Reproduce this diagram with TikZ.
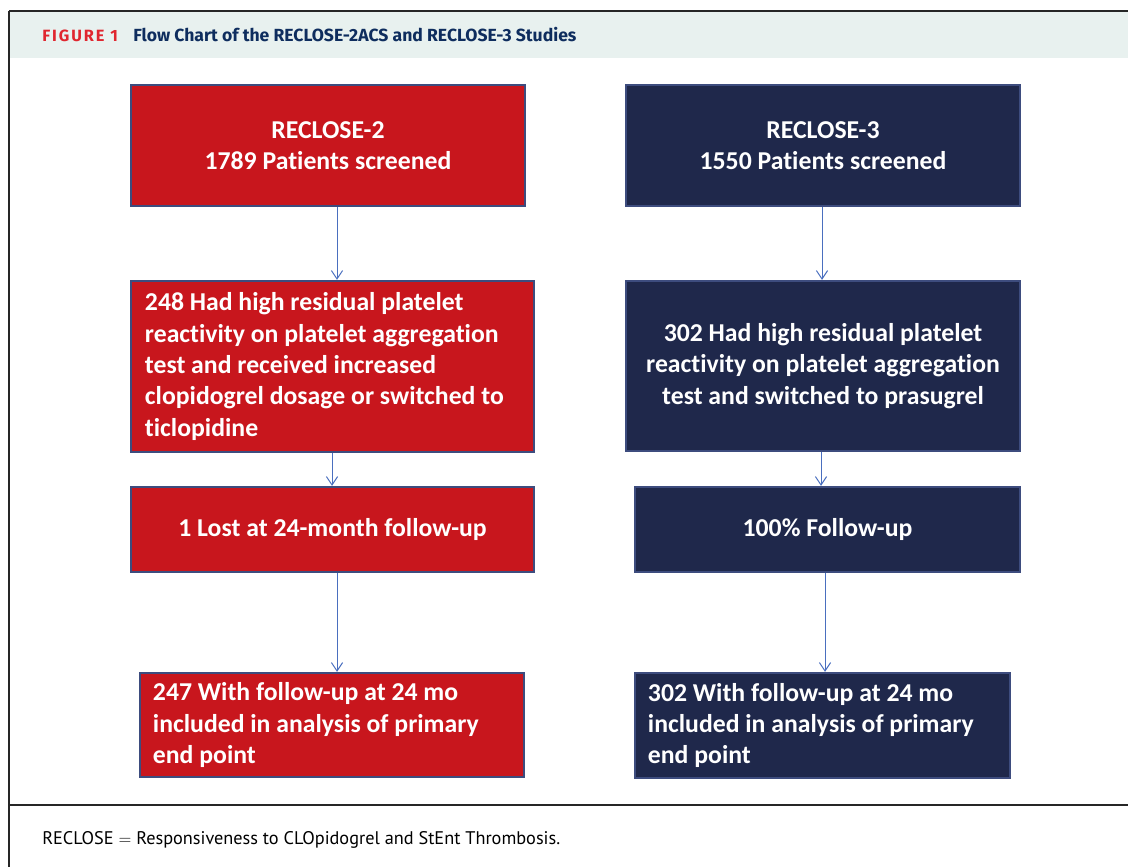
\documentclass[tikz,border=0pt]{standalone}
\usepackage{fontspec}
\setmainfont{Carlito}[Ligatures=NoCommon]
\newfontfamily\headfont{Fira Sans}
\newfontfamily\figfont{Fira Sans}[LetterSpace=12]
\newfontfamily\notefont{PT Sans}
\usepackage{tikz}
\usetikzlibrary{arrows.meta}
\definecolor{boxred}{HTML}{C8161D}
\definecolor{boxnavy}{HTML}{1F284B}
\definecolor{boxedge}{HTML}{3D4C7E}
\definecolor{flowblue}{HTML}{4A6FBF}
\definecolor{headbg}{HTML}{E8F1EF}
\definecolor{headred}{HTML}{E0262F}
\definecolor{headnavy}{HTML}{0E2D5E}

\begin{document}
\begin{tikzpicture}[x=0.025cm, y=-0.025cm,
		box/.style={draw=boxedge, line width=1.6pt, text=white, inner sep=0pt,
			font=\fontsize{18.3}{22.3}\selectfont\bfseries},
		redbox/.style={box, fill=boxred},
		navybox/.style={box, fill=boxnavy},
		flow/.style={draw=flowblue, line width=0.7pt, -{Straight Barb[length=6pt, width=8pt]}}]
	\useasboundingbox (0,0) rectangle (1128,867);
	\fill[headbg] (10,12) rectangle (1128,58);
	\draw[line width=1.4pt, black!85] (9,11) -- (1128,11);
	\draw[line width=1.4pt, black!85] (9,11) -- (9,867);
	\draw[line width=1.4pt, black!85] (9,805) -- (1128,805);
	\node[anchor=base west, inner sep=0pt, text=headred, font=\figfont\fontsize{11.6}{13}\selectfont\bfseries] (fig) at (42,42) {FIGURE 1};
	\node[anchor=base west, inner sep=0pt, text=headnavy, font=\headfont\fontsize{12.5}{14}\selectfont\bfseries] (title) at (133,42) {Flow Chart of the RECLOSE-2ACS and RECLOSE-3 Studies};
	\node[anchor=base west, inner sep=0pt, font=\notefont\fontsize{13}{15}\selectfont] (note) at (42,844) {RECLOSE $=$ Responsiveness to CLOpidogrel and StEnt Thrombosis.};

	% RECLOSE-2 column
	\node[redbox, minimum width=9.85cm, minimum height=3.025cm, align=center] (L1) at (328,145.5)
		{RECLOSE-2\\1789 Patients screened};
	\node[redbox, minimum height=4.275cm, inner xsep=0.35cm, text width=9.375cm, align=flush left] (L2) at (332.5,366.5)
		{248 Had high residual platelet\\reactivity on platelet aggregation\\test and received increased\\clopidogrel dosage or switched to\\ticlopidine};
	\node[redbox, minimum width=10.075cm, minimum height=2.125cm, align=center] (L3) at (332.5,529.5)
		{1 Lost at 24-month follow-up};
	\node[redbox, minimum height=2.6cm, inner xsep=0.325cm, text width=8.95cm, align=flush left] (L4) at (332,725)
		{247 With follow-up at 24 mo\\included in analysis of primary\\end point};

	% RECLOSE-3 column
	\node[navybox, minimum width=9.85cm, minimum height=3.025cm, align=center] (R1) at (823,145.5)
		{RECLOSE-3\\1550 Patients screened};
	\node[navybox, minimum width=9.85cm, minimum height=4.25cm, align=center] (R2) at (823,366)
		{302 Had high residual platelet\\reactivity on platelet aggregation\\test and switched to prasugrel};
	\node[navybox, minimum width=9.625cm, minimum height=2.125cm, align=center] (R3) at (827.5,529.5)
		{100\% Follow-up};
	\node[navybox, minimum height=2.625cm, inner xsep=0.325cm, text width=8.725cm, align=flush left] (R4) at (822.5,725.5)
		{302 With follow-up at 24 mo\\included in analysis of primary\\end point};

	\coordinate (a1) at (337,0);
	\coordinate (a2) at (332,0);
	\coordinate (a3) at (337,0);
	\coordinate (b1) at (822,0);
	\coordinate (b2) at (821,0);
	\coordinate (b3) at (825,0);
	\draw[flow] (L1.south -| a1) -- (L2.north -| a1);
	\draw[flow] (L2.south -| a2) -- (L3.north -| a2);
	\draw[flow] (L3.south -| a3) -- (L4.north -| a3);
	\draw[flow] (R1.south -| b1) -- (R2.north -| b1);
	\draw[flow] (R2.south -| b2) -- (R3.north -| b2);
	\draw[flow] (R3.south -| b3) -- (R4.north -| b3);
\end{tikzpicture}
\end{document}
